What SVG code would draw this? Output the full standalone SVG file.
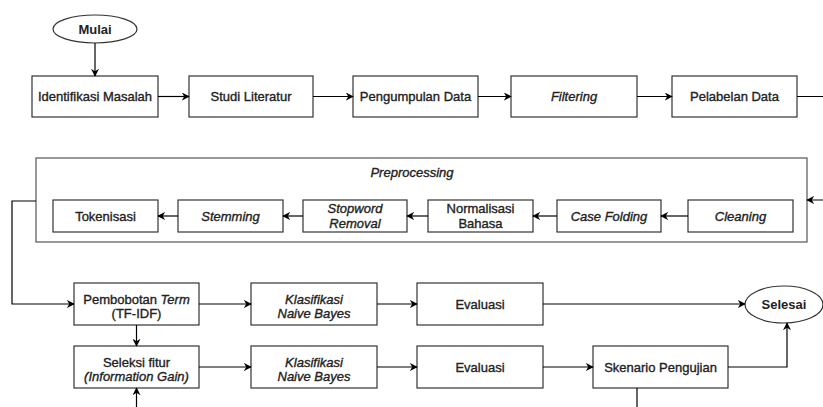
<svg xmlns="http://www.w3.org/2000/svg" width="823" height="407" viewBox="0 0 823 407">
<defs>
<marker id="arr" viewBox="0 0 10 10" refX="9" refY="5" markerWidth="8" markerHeight="8" markerUnits="userSpaceOnUse" orient="auto">
<path d="M0,0 L10,5 L0,10 L3,5 Z" fill="#000"/>
</marker>
</defs>
<style>
rect.n{fill:#fff;stroke:#333;stroke-width:1.2}
ellipse.n{fill:#fff;stroke:#333;stroke-width:1.2}
rect.c{fill:#fff;stroke:#555;stroke-width:1.2}
text{font-family:"Liberation Sans",Arial,sans-serif;font-size:13px;fill:#222;stroke:#222;stroke-width:0.35;text-anchor:middle}
text.b{font-weight:bold;stroke-width:0}
.i{font-style:italic}
#connectors path{fill:none;stroke:#000;stroke-width:1.2}
</style>
<rect width="823" height="407" fill="#fff"/>

<g id="preprocessing">
<rect class="c" x="36" y="158" width="771" height="84"/>
<text class="i" x="412" y="177">Preprocessing</text>
</g>

<g id="mulai"><ellipse class="n" cx="95" cy="29" rx="42" ry="14"/><text class="b" x="95" y="33.5">Mulai</text></g>
<g id="identifikasi"><rect class="n" x="32" y="76" width="126" height="41"/><text x="95" y="101">Identifikasi Masalah</text></g>
<g id="studi"><rect class="n" x="189" y="76" width="124" height="41"/><text x="251" y="101">Studi Literatur</text></g>
<g id="pengumpulan"><rect class="n" x="353" y="76" width="125" height="41"/><text x="415.5" y="101">Pengumpulan Data</text></g>
<g id="filtering"><rect class="n" x="511" y="76" width="126" height="41"/><text class="i" x="574" y="101">Filtering</text></g>
<g id="pelabelan"><rect class="n" x="672" y="76" width="125" height="41"/><text x="734.5" y="101">Pelabelan Data</text></g>

<g id="tokenisasi"><rect class="n" x="53" y="200" width="105" height="32"/><text x="105.5" y="220.5">Tokenisasi</text></g>
<g id="stemming"><rect class="n" x="178" y="200" width="105" height="32"/><text class="i" x="230.5" y="220.5">Stemming</text></g>
<g id="stopword"><rect class="n" x="303" y="200" width="104" height="32"/><text class="i" x="355" y="212.5">Stopword</text><text class="i" x="355" y="227.5">Removal</text></g>
<g id="normalisasi"><rect class="n" x="428" y="200" width="105" height="32"/><text x="480.5" y="212.5">Normalisasi</text><text x="480.5" y="227.5">Bahasa</text></g>
<g id="casefolding"><rect class="n" x="557" y="200" width="104" height="32"/><text class="i" x="609" y="220.5">Case Folding</text></g>
<g id="cleaning"><rect class="n" x="688" y="200" width="105" height="32"/><text class="i" x="740.5" y="220.5">Cleaning</text></g>

<g id="pembobotan"><rect class="n" x="74" y="283" width="125" height="42"/><text x="136.5" y="303.5">Pembobotan <tspan class="i">Term</tspan></text><text x="136.5" y="318">(TF-IDF)</text></g>
<g id="klasifikasi1"><rect class="n" x="251" y="283" width="126" height="42"/><text class="i" x="314" y="303.5">Klasifikasi</text><text class="i" x="314" y="318">Naive Bayes</text></g>
<g id="evaluasi1"><rect class="n" x="417" y="283" width="126" height="42"/><text x="480" y="308.5">Evaluasi</text></g>
<g id="selesai"><ellipse class="n" cx="784" cy="304.5" rx="39" ry="18.5"/><text class="b" x="784" y="309">Selesai</text></g>

<g id="seleksi"><rect class="n" x="74" y="346" width="125" height="42"/><text x="136.5" y="366.5">Seleksi fitur</text><text class="i" x="136.5" y="381">(Information Gain)</text></g>
<g id="klasifikasi2"><rect class="n" x="251" y="346" width="126" height="42"/><text class="i" x="314" y="366.5">Klasifikasi</text><text class="i" x="314" y="381">Naive Bayes</text></g>
<g id="evaluasi2"><rect class="n" x="417" y="346" width="126" height="42"/><text x="480" y="371.5">Evaluasi</text></g>
<g id="skenario"><rect class="n" x="593" y="346" width="135" height="42"/><text x="660.5" y="371.5">Skenario Pengujian</text></g>

<g id="connectors">
<path d="M95,43 V76" marker-end="url(#arr)"/>
<path d="M158,96.5 H189" marker-end="url(#arr)"/>
<path d="M313,96.5 H353" marker-end="url(#arr)"/>
<path d="M478,96.5 H511" marker-end="url(#arr)"/>
<path d="M637,96.5 H672" marker-end="url(#arr)"/>
<path d="M797,96.5 H830 V200 H807" marker-end="url(#arr)"/>
<path d="M688,216 H661" marker-end="url(#arr)"/>
<path d="M557,216 H533" marker-end="url(#arr)"/>
<path d="M428,216 H407" marker-end="url(#arr)"/>
<path d="M303,216 H283" marker-end="url(#arr)"/>
<path d="M178,216 H158" marker-end="url(#arr)"/>
<path d="M36,201 H12 V304 H74" marker-end="url(#arr)"/>
<path d="M199,304 H251" marker-end="url(#arr)"/>
<path d="M377,304 H417" marker-end="url(#arr)"/>
<path d="M543,304 H745" marker-end="url(#arr)"/>
<path d="M136.5,325 V346" marker-end="url(#arr)"/>
<path d="M199,367 H251" marker-end="url(#arr)"/>
<path d="M377,367 H417" marker-end="url(#arr)"/>
<path d="M543,367 H593" marker-end="url(#arr)"/>
<path d="M728,367 H787 V323" marker-end="url(#arr)"/>
<path d="M637,388 V415 H136.5 V388" marker-end="url(#arr)"/>
</g>
</svg>
